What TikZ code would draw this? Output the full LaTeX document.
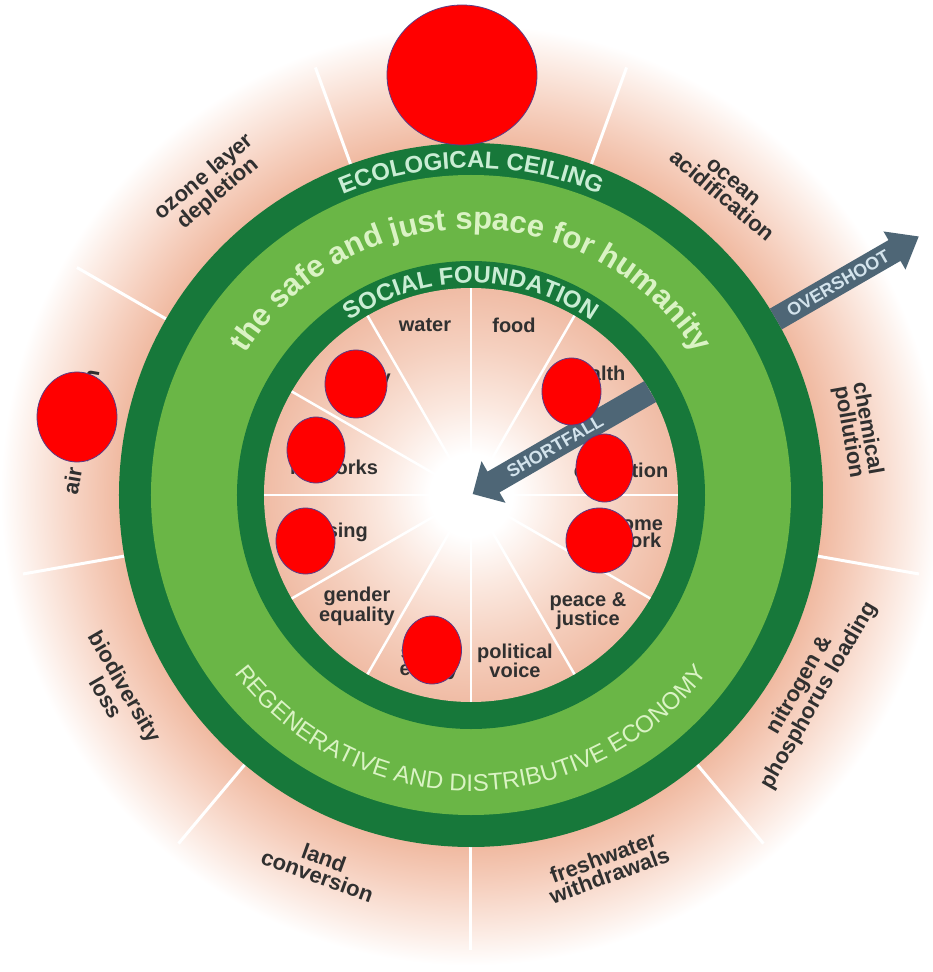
\documentclass[tikz,border=0pt]{standalone}
\usepackage{fontspec}
\setmainfont{Liberation Sans}
\usetikzlibrary{decorations.text}

\definecolor{darkring}{HTML}{17783A}
\definecolor{lightring}{HTML}{6AB646}
\definecolor{ringtext}{HTML}{C9EDD4}
\definecolor{spacetext}{HTML}{DAF3C4}
\definecolor{pinkdeep}{HTML}{F0B9A0}
\definecolor{pinkmid}{HTML}{F6D0BF}
\definecolor{pinkpale}{HTML}{FCEDE6}
\definecolor{pinkedge}{HTML}{F0BCA5}
\definecolor{pinksoft}{HTML}{F5D0BF}
\definecolor{pinkwash}{HTML}{FBE8DF}
\definecolor{arrowgrey}{HTML}{4E6676}
\definecolor{arrowtext}{HTML}{D3E3EC}
\definecolor{labelgrey}{HTML}{303030}
\definecolor{blotborder}{HTML}{5B3C85}

\pgfdeclareradialshading{outerglow}{\pgfpointorigin}{color(0bp)=(pinkdeep); color(17.9bp)=(pinkdeep); color(20bp)=(pinkmid); color(22.5bp)=(pinkpale); color(24bp)=(white); color(50bp)=(white)}
\pgfdeclareradialshading{innerglow}{\pgfpointorigin}{color(0bp)=(white); color(5bp)=(white); color(11bp)=(pinkwash); color(18bp)=(pinksoft); color(25bp)=(pinkedge); color(50bp)=(pinkedge)}

\begin{document}
\begin{tikzpicture}[x=1pt, y=1pt,
    lab/.style={font=\bfseries\fontsize{20}{17}\selectfont, text=labelgrey, align=center, inner sep=0pt},
    outerlab/.style={lab, font=\bfseries\fontsize{22}{19}\selectfont},
    blot/.style={fill=red, draw=blotborder, line width=0.8pt},
    spoke/.style={white, line width=3pt},
    arrowtag/.style={font=\bfseries\fontsize{18}{18}\selectfont, text=arrowtext, inner sep=0pt, rotate=30}]
\useasboundingbox (-471,-477) rectangle (461,495);

% pink glow and the outer spokes
\shade[shading=outerglow] (0,0) circle (490);
\foreach \a in {30,70,...,350}
    \draw[spoke] (\a:352) -- (\a:455);

% the doughnut
\fill[darkring] (0,0) circle (352);
\fill[lightring] (0,0) circle (320);
\fill[darkring] (0,0) circle (234);
\shade[shading=innerglow] (0,0) circle (207);
\foreach \a in {0,30,...,330}
    \draw[spoke, line width=2.5pt] (\a:14) -- (\a:207);

% ring texts
\path[decorate, decoration={text along path, text align=center, text color=ringtext,
    text={|\bfseries\fontsize{24}{24}\selectfont|ECOLOGICAL CEILING}}]
    (150:327) arc[start angle=150, end angle=30, radius=327];
\path[decorate, decoration={text along path, text align=center, text color=spacetext,
    text={|\bfseries\fontsize{31}{31}\selectfont|the safe and just space for humanity}}]
    (170:266) arc[start angle=170, end angle=10, radius=266];
\path[decorate, decoration={text along path, text align=center, text color=ringtext,
    text={|\bfseries\fontsize{24}{24}\selectfont|SOCIAL FOUNDATION}}]
    (150:212) arc[start angle=150, end angle=30, radius=212];
\path[decorate, decoration={text along path, text align=center, text color=spacetext,
    text={|\fontsize{24}{24}\selectfont|REGENERATIVE AND DISTRIBUTIVE ECONOMY}}]
    (200:296) arc[start angle=200, end angle=340, radius=296];

% overshoot and shortfall
\begin{scope}[rotate=30]
    \fill[arrowgrey] (352,-12) -- (489,-12) -- (489,-22) -- (517,0) -- (489,22) -- (489,12) -- (352,12) -- cycle;
    \fill[arrowgrey] (207,-12) -- (26,-12) -- (26,-24) -- (2,0) -- (26,24) -- (26,12) -- (207,12) -- cycle;
    \node[arrowtag] (over) at (424,0) {OVERSHOOT};
    \node[arrowtag] (short) at (97,0) {SHORTFALL};
\end{scope}

% ecological ceiling
\node[outerlab, rotate=40] (ozone) at (130:404) {ozone layer\\depletion};
\node[outerlab, rotate=-40] (ocean) at (50:399) {ocean\\acidification};
\node[outerlab, rotate=-80] (chemical) at (9.5:392) {chemical\\pollution};
\node[outerlab, rotate=60] (nitrogen) at (-30:391) {nitrogen \&\\phosphorus loading};
\node[outerlab, rotate=20] (freshwater) at (-70:395) {freshwater\\withdrawals};
\node[outerlab, rotate=-20] (land) at (-112:401) {land\\conversion};
\node[outerlab, rotate=-60] (biodiversity) at (-151:406) {biodiversity\\loss};
\node[outerlab, rotate=80] (air) at (170.8:393) {air pollution};

% social foundation
\node[lab] (water) at (-46,170) {water};
\node[lab] (food) at (43,170) {food};
\node[lab] (health) at (125,122) {health};
\node[lab] (education) at (150,25) {education};
\node[lab] (income) at (157,-37) {income\\\& work};
\node[lab] (peace) at (117,-116) {peace \&\\justice};
\node[lab] (political) at (44,-166) {political\\voice};
\node[lab] (equity) at (-42,-167) {social\\equity};
\node[lab] (gender) at (-114,-111) {gender\\equality};
\node[lab] (housing) at (-142,-37) {housing};
\node[lab] (networks) at (-137,28) {networks};
\node[lab] (energy) at (-113,114) {energy};

% red blots
\draw[blot] (-9,420) ellipse [x radius=75, y radius=70];
\draw[blot] (-394,78) ellipse [x radius=40, y radius=45];
\draw[blot] (-115,111) ellipse [x radius=31, y radius=34];
\draw[blot] (-155,45) ellipse [x radius=29, y radius=33];
\draw[blot] (-165.5,-46) ellipse [x radius=29.5, y radius=33];
\draw[blot] (-39,-155) ellipse [x radius=29.5, y radius=34];
\draw[blot] (100.5,103.5) ellipse [x radius=29.5, y radius=33.5];
\draw[blot] (133.5,27) ellipse [x radius=28.5, y radius=34];
\draw[blot] (128.5,-45.5) ellipse [x radius=33.5, y radius=32.5];
\end{tikzpicture}
\end{document}
